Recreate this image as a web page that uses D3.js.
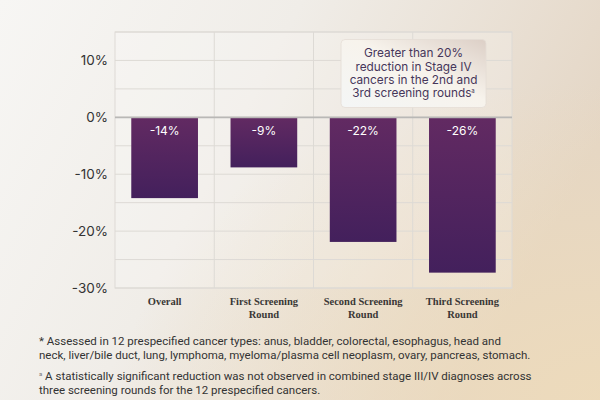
<!DOCTYPE html>
<html>
<head>
<meta charset="utf-8">
<script src="https://cdn.jsdelivr.net/npm/d3@7"></script>
<style>
  html, body { margin: 0; padding: 0; }
  svg { display: block; }
</style>
</head>
<body>
<script>
const categories = ["Overall", "First Screening Round", "Second Screening Round", "Third Screening Round"];
const categoryLines = [["Overall"], ["First Screening", "Round"], ["Second Screening", "Round"], ["Third Screening", "Round"]];
const values = [-14.2, -8.8, -21.9, -27.3];
const valueLabels = ["-14%", "-9%", "-22%", "-26%"];
const yTicks = [10, 0, -10, -20, -30];
const gridSteps = [15, 10, 5, 0, -5, -10, -15, -20, -25, -30];
const calloutLines = ["Greater than 20%", "reduction in Stage IV", "cancers in the 2nd and", "3rd screening rounds"];
const footnote1 = [
  "* Assessed in 12 prespecified cancer types: anus, bladder, colorectal, esophagus, head and",
  "neck, liver/bile duct, lung, lymphoma, myeloma/plasma cell neoplasm, ovary, pancreas, stomach."
];
const footnote2 = [
  " A statistically significant reduction was not observed in combined stage III/IV diagnoses across",
  "three screening rounds for the 12 prespecified cancers."
];

const width = 600;
const height = 400;
const plot = { left: 115, right: 512, top: 32, bottom: 288 };

const svg = d3.select("body").append("svg")
  .attr("width", width)
  .attr("height", height);

const defs = svg.append("defs");

const bg = defs.append("linearGradient").attr("id", "bg")
  .attr("x1", 0).attr("y1", 0).attr("x2", 1).attr("y2", 0.35);
bg.append("stop").attr("offset", "0%").attr("stop-color", "#f7f6f4");
bg.append("stop").attr("offset", "45%").attr("stop-color", "#f0ede8");
bg.append("stop").attr("offset", "100%").attr("stop-color", "#e4d6c5");

const warm = defs.append("radialGradient").attr("id", "warm")
  .attr("cx", 1).attr("cy", 1).attr("r", 0.8);
warm.append("stop").attr("offset", "0%").attr("stop-color", "#f0dcb8").attr("stop-opacity", 0.75);
warm.append("stop").attr("offset", "100%").attr("stop-color", "#f0dcb8").attr("stop-opacity", 0);

const barGrad = defs.append("linearGradient").attr("id", "bar")
  .attr("x1", 0).attr("y1", 0).attr("x2", 0).attr("y2", 1);
barGrad.append("stop").attr("offset", "0%").attr("stop-color", "#622a62");
barGrad.append("stop").attr("offset", "100%").attr("stop-color", "#43205c");

const boxGrad = defs.append("linearGradient").attr("id", "box")
  .attr("x1", 0).attr("y1", 1).attr("x2", 1).attr("y2", 0);
boxGrad.append("stop").attr("offset", "0%").attr("stop-color", "#f4f6f6");
boxGrad.append("stop").attr("offset", "55%").attr("stop-color", "#f7f3ec");
boxGrad.append("stop").attr("offset", "100%").attr("stop-color", "#dccfc6");

svg.append("rect").attr("width", width).attr("height", height).attr("fill", "url(#bg)");
svg.append("rect").attr("width", width).attr("height", height).attr("fill", "url(#warm)");

const x = d3.scaleBand()
  .domain(categories)
  .range([plot.left, plot.right])
  .padding(0);

const y = d3.scaleLinear()
  .domain([-30, 15])
  .range([plot.bottom, plot.top]);

const barWidth = x.bandwidth() * 0.672;

// plot frame and grid
svg.append("rect")
  .attr("x", plot.left).attr("y", plot.top)
  .attr("width", plot.right - plot.left).attr("height", plot.bottom - plot.top)
  .attr("fill", "#ffffff").attr("fill-opacity", 0.2)
  .attr("stroke", "#dddad5").attr("stroke-width", 1);

svg.append("g").selectAll("line")
  .data(gridSteps)
  .join("line")
  .attr("x1", plot.left).attr("x2", plot.right)
  .attr("y1", (d) => y(d)).attr("y2", (d) => y(d))
  .attr("stroke", "#dddad5").attr("stroke-width", 1);

svg.append("g").selectAll("line")
  .data(categories.slice(1))
  .join("line")
  .attr("x1", (d) => x(d)).attr("x2", (d) => x(d))
  .attr("y1", plot.top).attr("y2", plot.bottom)
  .attr("stroke", "#dddad5").attr("stroke-width", 1);

// bars
const groups = svg.append("g").selectAll("g")
  .data(values)
  .join("g")
  .attr("transform", (d, i) => `translate(${x(categories[i]) + x.bandwidth() / 2} 0)`);

groups.append("rect")
  .attr("x", -barWidth / 2)
  .attr("width", barWidth)
  .attr("y", y(0))
  .attr("height", (d) => y(d) - y(0))
  .attr("fill", "url(#bar)");

groups.append("text")
  .attr("y", y(0) + 17.5)
  .attr("text-anchor", "middle")
  .attr("fill", "#ffffff")
  .attr("font-family", "Inter, sans-serif")
  .attr("font-size", 12)
  .text((d, i) => valueLabels[i]);

// zero line
svg.append("line")
  .attr("x1", plot.left).attr("x2", plot.right)
  .attr("y1", y(0)).attr("y2", y(0))
  .attr("stroke", "#b9b8b6").attr("stroke-width", 1.6);

// y axis
const yAxis = d3.axisLeft(y)
  .tickValues(yTicks)
  .tickSize(0)
  .tickPadding(7)
  .tickFormat((d) => `${d}%`);

const yAxisG = svg.append("g")
  .attr("transform", `translate(${plot.left} 0)`)
  .call(yAxis);
yAxisG.select(".domain").remove();
yAxisG.selectAll("text")
  .attr("font-family", "Inter, sans-serif")
  .attr("font-size", 13.5)
  .attr("fill", "#333333");

// x labels
const xLabels = svg.append("g").selectAll("text")
  .data(categoryLines)
  .join("text")
  .attr("text-anchor", "middle")
  .attr("font-family", "'Liberation Serif', 'DejaVu Serif', serif")
  .attr("font-weight", "bold")
  .attr("font-size", 10.5)
  .attr("fill", "#3a3836")
  .attr("transform", (d, i) => `translate(${x(categories[i]) + x.bandwidth() / 2} 305)`);

xLabels.selectAll("tspan")
  .data((d) => d)
  .join("tspan")
  .attr("x", 0)
  .attr("y", (d, i) => i * 12.5)
  .text((d) => d);

// callout box
const callout = svg.append("g");
callout.append("rect")
  .attr("x", 341).attr("y", 39.5)
  .attr("width", 145).attr("height", 68)
  .attr("rx", 4)
  .attr("fill", "url(#box)")
  .attr("stroke", "#e4ddd5").attr("stroke-width", 0.8);

const calloutText = callout.append("text")
  .attr("text-anchor", "middle")
  .attr("font-family", "Inter, sans-serif")
  .attr("font-size", 11.8)
  .attr("fill", "#46365a");

calloutLines.forEach((line, i) => {
  calloutText.append("tspan")
    .attr("x", 413.5)
    .attr("y", 57.3 + i * 13.2)
    .text(line);
  if (i === calloutLines.length - 1) {
    calloutText.append("tspan")
      .attr("font-size", 6)
      .attr("dy", -4)
      .text("a");
  }
});

// footnotes
const notes = svg.append("g")
  .attr("font-family", "Roboto, sans-serif")
  .attr("font-size", 11.5)
  .attr("fill", "#333333");

footnote1.forEach((line, i) => {
  notes.append("text")
    .attr("x", 39)
    .attr("y", 345 + i * 14.3)
    .text(line);
});

footnote2.forEach((line, i) => {
  const t = notes.append("text")
    .attr("x", 39)
    .attr("y", 380 + i * 13.5);
  if (i === 0) {
    t.append("tspan").attr("font-size", 6).attr("dy", -4).attr("fill", "#777").text("a");
    t.append("tspan").attr("dy", 4).text(line);
  } else {
    t.text(line);
  }
});
</script>
</body>
</html>
